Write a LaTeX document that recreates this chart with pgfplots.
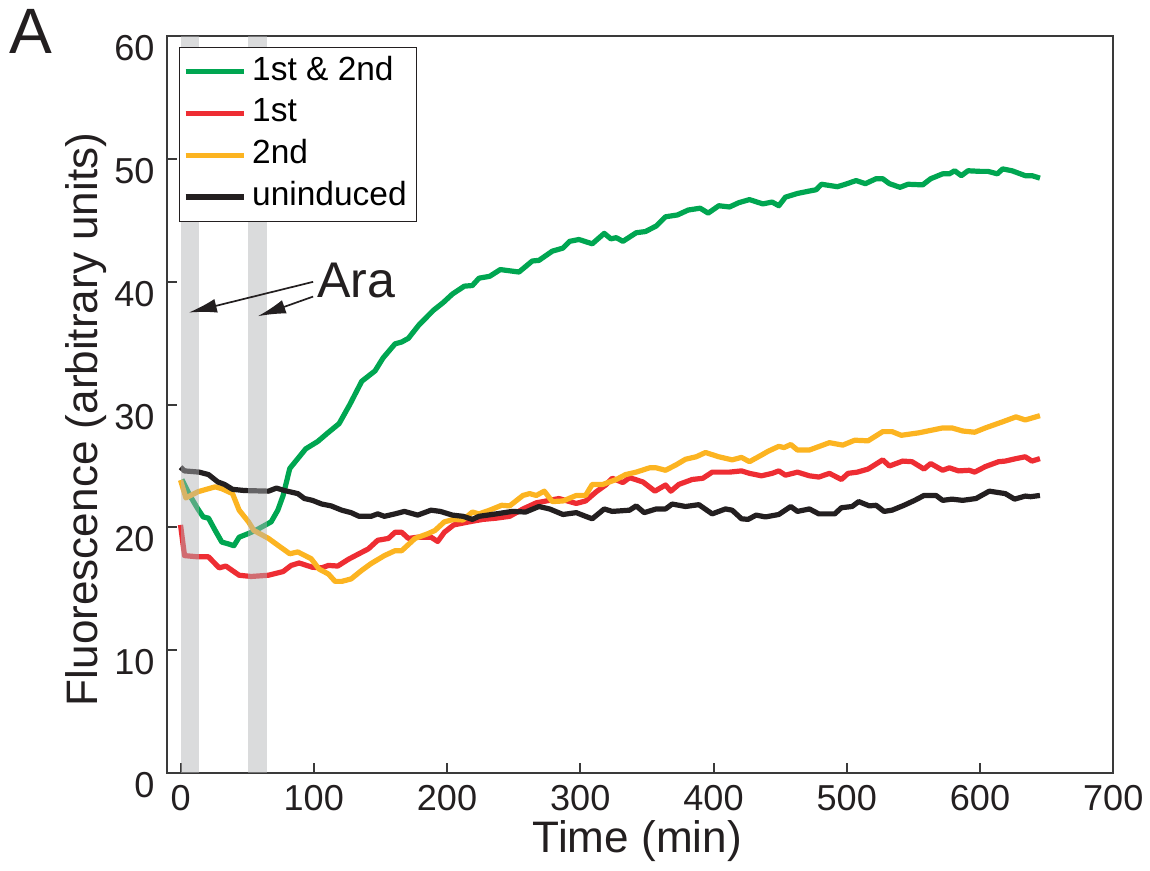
\documentclass[border=0pt]{standalone}
\usepackage{fontspec}
\setmainfont{Liberation Sans}
\usepackage{pgfplots}
\pgfplotsset{compat=1.18}
\usetikzlibrary{arrows.meta}

\definecolor{cgreen}{HTML}{00A651}
\definecolor{cred}{HTML}{EE2D33}
\definecolor{corange}{HTML}{FCB421}
\definecolor{cblack}{HTML}{231F20}
\definecolor{caxis}{HTML}{3A3A3A}
\definecolor{cband}{RGB}{177,178,181}

\pgfplotstableread{
t f
1 23.9
7 22.6
13 21.5
17 20.85
21 20.75
26 19.75
31 18.8
36 18.65
40 18.5
44 19.2
51 19.5
58 19.85
68 20.45
73 21.4
77 22.6
82 24.8
88 25.6
94 26.4
103 27.0
110 27.65
119 28.45
127 30.0
136 31.9
146 32.75
152 33.8
161 34.95
166 35.1
171 35.4
179 36.5
190 37.7
197 38.3
204 39.0
213 39.65
219 39.7
224 40.3
232 40.45
240 41.0
247 40.9
254 40.8
264 41.7
269 41.75
279 42.5
287 42.75
292 43.3
299 43.45
309 43.1
318 43.95
323 43.5
327 43.6
332 43.3
342 44.0
349 44.1
357 44.55
364 45.3
373 45.45
381 45.85
390 46.0
396 45.6
404 46.2
412 46.1
419 46.45
427 46.7
437 46.35
444 46.5
449 46.2
454 46.9
463 47.2
472 47.4
477 47.5
481 47.95
487 47.85
493 47.75
499 47.95
507 48.25
514 48.0
522 48.4
527 48.4
532 48.0
540 47.7
546 47.95
557 47.9
563 48.4
572 48.8
577 48.8
581 49.05
586 48.65
591 49.05
600 49.0
606 49.0
613 48.8
617 49.2
624 49.05
634 48.65
639 48.65
645 48.45
}\greendata

\pgfplotstableread{
t f
0 20.2
3 17.7
13 17.6
21 17.6
29 16.7
34 16.85
44 16.1
53 16.0
66 16.1
77 16.4
83 16.9
89 17.1
99 16.75
106 16.7
111 16.9
118 16.85
126 17.4
133 17.8
141 18.25
148 18.95
156 19.1
161 19.6
166 19.6
171 19.1
178 19.2
188 19.2
193 18.85
198 19.6
205 20.2
212 20.35
219 20.5
227 20.65
237 20.75
247 20.9
257 21.5
267 22.0
277 22.2
284 22.35
292 22.1
297 21.95
304 22.15
312 22.9
319 23.45
324 24.0
332 23.65
337 24.05
347 23.7
356 22.95
364 23.45
368 22.95
374 23.5
384 23.9
392 24.0
399 24.5
412 24.5
421 24.6
427 24.4
436 24.2
444 24.4
449 24.6
454 24.25
463 24.5
472 24.2
479 24.1
487 24.4
496 23.9
501 24.4
508 24.5
516 24.75
527 25.5
532 25.0
542 25.4
549 25.35
558 24.75
563 25.2
572 24.65
577 24.85
584 24.6
592 24.65
596 24.5
604 24.95
614 25.35
619 25.4
627 25.6
634 25.75
639 25.4
645 25.6
}\reddata

\pgfplotstableread{
t f
0 23.85
4 22.4
13 22.9
21 23.15
26 23.3
31 23.15
39 22.75
44 21.4
51 20.45
55 19.75
66 19.1
73 18.55
82 17.85
88 18.0
98 17.45
104 16.6
111 16.2
116 15.6
121 15.6
128 15.8
136 16.5
143 17.05
153 17.7
161 18.1
166 18.1
176 19.1
186 19.5
191 19.75
198 20.45
205 20.65
212 20.6
219 21.25
224 21.1
232 21.4
241 21.8
247 21.75
257 22.6
262 22.75
267 22.6
273 22.95
279 22.1
287 22.15
297 22.6
304 22.6
309 23.5
317 23.5
327 23.9
334 24.3
342 24.5
352 24.85
357 24.85
364 24.65
372 25.1
379 25.55
387 25.75
394 26.1
404 25.75
414 25.5
421 25.7
427 25.35
437 25.95
441 26.2
449 26.6
453 26.5
458 26.75
463 26.3
472 26.3
482 26.7
487 26.9
497 26.7
506 27.1
516 27.05
527 27.8
534 27.8
541 27.5
554 27.7
563 27.9
572 28.1
579 28.1
587 27.85
596 27.75
604 28.1
617 28.6
627 29.0
634 28.75
645 29.1
}\orangedata

\pgfplotstableread{
t f
0 24.9
3 24.6
14 24.5
21 24.3
28 23.7
33 23.5
39 23.1
48 23.0
66 22.95
72 23.2
78 23.0
88 22.75
93 22.35
99 22.2
106 21.9
113 21.75
121 21.4
128 21.2
134 20.9
143 20.9
148 21.1
153 20.9
161 21.1
168 21.3
178 21.0
188 21.4
195 21.3
204 21.0
212 20.9
219 20.65
224 20.9
237 21.1
249 21.3
259 21.25
269 21.7
277 21.5
287 21.05
297 21.2
304 20.9
309 20.7
318 21.5
324 21.3
337 21.4
342 21.75
348 21.2
357 21.5
364 21.5
369 21.9
379 21.7
389 21.85
399 21.1
409 21.5
414 21.4
421 20.7
426 20.65
432 21.0
439 20.85
449 21.05
458 21.7
463 21.3
472 21.5
479 21.1
491 21.1
496 21.6
504 21.7
509 22.1
517 21.75
522 21.8
528 21.3
534 21.4
543 21.8
551 22.2
558 22.6
567 22.6
572 22.2
579 22.3
587 22.2
597 22.35
607 22.95
619 22.75
626 22.3
634 22.55
638 22.5
645 22.6
}\blackdata

\begin{document}
\begin{tikzpicture}
\begin{axis}[
  scale only axis,
  width=472pt, height=367.5pt,
  xmin=-10, xmax=700,
  ymin=0, ymax=60,
  xtick={0,100,...,700},
  ytick={0,10,...,60},
  tick align=inside,
  xtick pos=bottom, ytick pos=left,
  major tick length=4.7pt,
  axis line style={draw=caxis, line width=1pt},
  tick style={draw=caxis, line width=1pt},
  /pgf/number format/assume math mode=true,
  ticklabel style={font=\fontsize{18}{20}\selectfont, text=cblack},
  xticklabel style={yshift=-2.5pt},
  yticklabel style={xshift=-2.8pt, yshift=-6pt},
  xlabel={Time (min)},
  ylabel={Fluorescence (arbitrary units)},
  every axis x label/.style={at={(axis description cs:0.497,-0.0925)}, anchor=center,
    font=\fontsize{22}{24}\selectfont, text=cblack},
  every axis y label/.style={at={(axis description cs:-0.0855,0.48)}, anchor=center, rotate=90,
    font=\fontsize{22}{24}\selectfont, text=cblack},
  clip=false,
  legend cell align=left,
  legend style={
    at={(axis description cs:0.012,0.985)}, anchor=north west,
    draw=cblack, line width=0.5pt,
    font=\fontsize{16.7}{18}\selectfont,
    inner xsep=2pt, inner ysep=1.6pt,
    row sep=0pt,
    nodes={inner sep=3pt, text height=11.5pt, text depth=3.3pt},
  },
  legend image code/.code={\draw[#1, line width=2.5pt] (0pt,0pt) -- (29pt,0pt);},
  every axis plot/.append style={line width=2.6pt, line join=round},
]
\addplot[cgreen] table[x=t, y=f] {\greendata};
\addlegendentry{1st \& 2nd}
\addplot[cred] table[x=t, y=f] {\reddata};
\addlegendentry{1st}
\addplot[corange] table[x=t, y=f] {\orangedata};
\addlegendentry{2nd}
\addplot[cblack] table[x=t, y=f] {\blackdata};
\addlegendentry{uninduced}

% arabinose pulses
\addplot[draw=none, fill=cband, fill opacity=0.47, forget plot] coordinates {(0,0) (14,0) (14,60) (0,60)} -- cycle;
\addplot[draw=none, fill=cband, fill opacity=0.47, forget plot] coordinates {(51,0) (65,0) (65,60) (51,60)} -- cycle;

\draw[cblack, line width=0.85pt, -{Latex[length=14pt, width=7pt]}] (axis cs:99.5,40.0) -- (axis cs:6.2,37.5);
\draw[cblack, line width=0.85pt, -{Latex[length=14pt, width=7pt]}] (axis cs:99.5,38.8) -- (axis cs:58,37.2);
\node[anchor=west, inner sep=0pt, font=\fontsize{25}{27}\selectfont, text=cblack] at (axis cs:102.3,40.1) {Ara};
\node[inner sep=0pt, font=\fontsize{32}{34}\selectfont, text=cblack] at (axis cs:-112.5,60.4) {A};

\path (axis cs:-135.5,-7.93) rectangle (axis cs:727,62.96);
\end{axis}
\end{tikzpicture}
\end{document}
